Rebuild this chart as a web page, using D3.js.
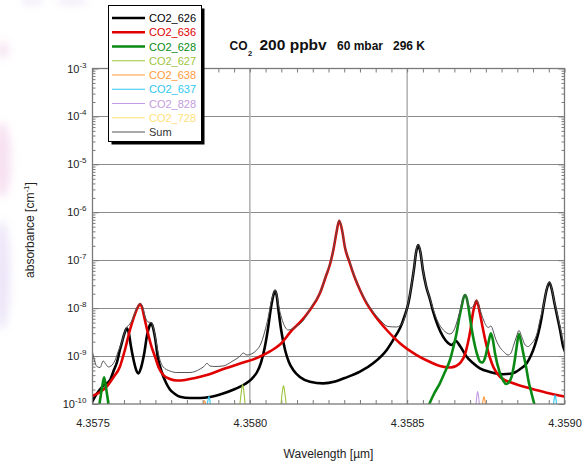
<!DOCTYPE html>
<html>
<head>
<meta charset="utf-8">
<script src="https://cdn.jsdelivr.net/npm/d3@7"></script>
<style>
  body { margin: 0; background: #fff; }
  svg { display: block; }
  text { font-family: "Liberation Sans", Arial, sans-serif; }
</style>
</head>
<body>
<svg id="chart" width="588" height="464"></svg>
<script>
// Axis ticks
const xTicks = [4.3575, 4.3580, 4.3585, 4.3590];
const yTicks = [1e-10, 1e-9, 1e-8, 1e-7, 1e-6, 1e-5, 1e-4, 1e-3];

// Absorbance spectra per isotopologue: [wavelength (µm), absorbance (cm^-1)]
const co2_626 = [
  [4.357500, 1.15e-10], [4.357514, 1.66e-10], [4.357533, 2.37e-10], [4.357556, 3.17e-10],
  [4.357568, 5.12e-10], [4.357578, 7.52e-10], [4.357587, 1.34e-9], [4.357594, 1.97e-9],
  [4.357602, 3.03e-9], [4.357609, 3.80e-9], [4.357616, 2.89e-9], [4.357622, 1.62e-9],
  [4.357632, 7.52e-10], [4.357640, 4.88e-10], [4.357646, 4.33e-10], [4.357654, 5.64e-10],
  [4.357664, 1.10e-9], [4.357673, 2.62e-9], [4.357680, 4.04e-9], [4.357686, 4.83e-9],
  [4.357692, 4.04e-9], [4.357699, 2.38e-9], [4.357708, 9.11e-10], [4.357720, 4.65e-10],
  [4.357734, 2.74e-10], [4.357746, 2.01e-10], [4.357762, 1.62e-10], [4.357778, 1.42e-10],
  [4.357810, 1.33e-10], [4.357842, 1.33e-10], [4.357873, 1.40e-10], [4.357915, 1.66e-10],
  [4.357953, 2.06e-10], [4.357985, 2.61e-10], [4.358007, 3.40e-10], [4.358023, 4.65e-10],
  [4.358036, 7.52e-10], [4.358047, 1.47e-9], [4.358058, 3.85e-9], [4.358067, 1.01e-8],
  [4.358075, 1.88e-8], [4.358080, 2.31e-8], [4.358085, 1.88e-8], [4.358091, 9.15e-9],
  [4.358099, 3.67e-9], [4.358112, 1.34e-9], [4.358124, 7.52e-10], [4.358138, 5.12e-10],
  [4.358159, 3.66e-10], [4.358191, 2.92e-10], [4.358233, 2.70e-10], [4.358271, 2.95e-10],
  [4.358302, 3.49e-10], [4.358350, 4.72e-10], [4.358392, 7.07e-10], [4.358435, 1.34e-9],
  [4.358461, 2.50e-9], [4.358477, 3.80e-9], [4.358493, 7.19e-9], [4.358504, 1.28e-8],
  [4.358514, 3.04e-8], [4.358522, 6.88e-8], [4.358528, 1.41e-7], [4.358535, 2.08e-7],
  [4.358542, 1.48e-7], [4.358550, 6.25e-8], [4.358560, 2.90e-8], [4.358573, 1.48e-8],
  [4.358582, 8.71e-9], [4.358598, 4.24e-9], [4.358614, 2.54e-9], [4.358630, 1.87e-9],
  [4.358642, 1.70e-9], [4.358655, 2.06e-9], [4.358668, 1.62e-9], [4.358689, 9.70e-10],
  [4.358709, 7.17e-10], [4.358731, 5.56e-10], [4.358763, 4.65e-10], [4.358805, 4.17e-10],
  [4.358833, 4.33e-10], [4.358859, 5.37e-10], [4.358880, 7.07e-10], [4.358894, 1.05e-9],
  [4.358906, 1.70e-9], [4.358917, 3.03e-9], [4.358927, 6.23e-9], [4.358935, 1.28e-8],
  [4.358943, 2.39e-8], [4.358952, 3.43e-8], [4.358960, 2.39e-8], [4.358968, 1.28e-8],
  [4.358976, 7.19e-9], [4.358986, 3.50e-9], [4.358996, 1.57e-9], [4.359002, 1.22e-9]
];

const co2_636 = [
  [4.357500, 1.47e-10], [4.357524, 1.78e-10], [4.357545, 2.30e-10], [4.357565, 3.49e-10],
  [4.357587, 6.00e-10], [4.357603, 1.34e-9], [4.357619, 3.50e-9], [4.357635, 7.55e-9],
  [4.357645, 1.08e-8], [4.357651, 1.22e-8], [4.357657, 1.06e-8], [4.357665, 6.23e-9],
  [4.357673, 3.67e-9], [4.357686, 1.70e-9], [4.357699, 9.56e-10], [4.357711, 5.64e-10],
  [4.357725, 4.03e-10], [4.357746, 3.32e-10], [4.357768, 3.09e-10], [4.357794, 3.17e-10],
  [4.357826, 3.49e-10], [4.357863, 4.03e-10], [4.357916, 5.37e-10], [4.357969, 7.00e-10],
  [4.358022, 9.11e-10], [4.358064, 1.25e-9], [4.358096, 1.74e-9], [4.358137, 3.67e-9],
  [4.358159, 5.02e-9], [4.358191, 9.15e-9], [4.358223, 2.07e-8], [4.358242, 4.68e-8],
  [4.358255, 8.34e-8], [4.358266, 1.71e-7], [4.358275, 3.70e-7], [4.358284, 6.67e-7],
  [4.358293, 4.27e-7], [4.358302, 1.89e-7], [4.358318, 8.62e-8], [4.358334, 4.25e-8],
  [4.358350, 2.39e-8], [4.358369, 1.34e-8], [4.358392, 7.81e-9], [4.358435, 3.50e-9],
  [4.358477, 1.85e-9], [4.358530, 1.05e-9], [4.358573, 7.52e-10], [4.358604, 6.21e-10],
  [4.358636, 5.77e-10], [4.358655, 6.21e-10], [4.358671, 7.52e-10], [4.358684, 1.10e-9],
  [4.358693, 1.87e-9], [4.358701, 3.50e-9], [4.358709, 7.92e-9], [4.358716, 1.22e-8],
  [4.358720, 1.43e-8], [4.358725, 1.22e-8], [4.358731, 7.92e-9], [4.358739, 4.24e-9],
  [4.358753, 1.57e-9], [4.358769, 7.07e-10], [4.358795, 3.71e-10], [4.358837, 2.70e-10],
  [4.358890, 2.13e-10], [4.358943, 1.72e-10], [4.359002, 1.42e-10]
];

const co2_628 = [
  [4.357519, 7.50e-11], [4.357525, 1.33e-10], [4.357531, 2.37e-10], [4.357537, 3.61e-10],
  [4.357542, 2.37e-10], [4.357548, 1.33e-10], [4.357554, 7.50e-11],
  [4.358560, 6.81e-11], [4.358569, 9.53e-11], [4.358585, 1.62e-10], [4.358604, 2.70e-10],
  [4.358620, 4.65e-10], [4.358636, 8.28e-10], [4.358647, 1.55e-9], [4.358657, 2.99e-9],
  [4.358666, 6.53e-9], [4.358673, 1.07e-8], [4.358679, 1.63e-8], [4.358684, 1.88e-8],
  [4.358689, 1.63e-8], [4.358695, 1.01e-8], [4.358703, 4.45e-9], [4.358716, 1.57e-9],
  [4.358725, 9.56e-10], [4.358731, 7.70e-10], [4.358739, 7.34e-10], [4.358747, 8.98e-10],
  [4.358758, 1.85e-9], [4.358766, 2.99e-9], [4.358773, 2.06e-9], [4.358779, 1.16e-9],
  [4.358795, 4.37e-10], [4.358806, 3.02e-10], [4.358814, 2.61e-10], [4.358824, 2.88e-10],
  [4.358832, 3.71e-10], [4.358841, 7.52e-10], [4.358848, 1.57e-9], [4.358855, 2.89e-9],
  [4.358862, 1.97e-9], [4.358869, 1.14e-9], [4.358878, 5.92e-10], [4.358885, 3.17e-10],
  [4.358895, 1.70e-10], [4.358906, 9.08e-11], [4.358913, 6.81e-11]
];

const co2_627 = [
  [4.357967, 8.0e-11], [4.357972, 1.6e-10], [4.357977, 2.55e-10], [4.357982, 1.6e-10], [4.357987, 8.0e-11],
  [4.358097, 8.0e-11], [4.358102, 1.55e-10], [4.358107, 2.43e-10], [4.358112, 1.55e-10], [4.358117, 8.0e-11]
];

const co2_638 = [
  [4.357850, 8.5e-11], [4.357853, 1.05e-10], [4.357856, 1.16e-10], [4.357859, 1.05e-10], [4.357862, 8.5e-11],
  [4.358738, 8.5e-11], [4.358741, 1.2e-10], [4.358744, 1.43e-10], [4.358747, 1.2e-10], [4.358750, 8.5e-11]
];

const co2_637 = [
  [4.357864, 8.5e-11], [4.357867, 1.2e-10], [4.357870, 1.43e-10], [4.357873, 1.2e-10], [4.357876, 8.5e-11],
  [4.358964, 8.5e-11], [4.358967, 1.25e-10], [4.358970, 1.54e-10], [4.358973, 1.25e-10], [4.358976, 8.5e-11]
];

const co2_828 = [
  [4.358718, 8.5e-11], [4.358721, 1.4e-10], [4.358724, 1.82e-10], [4.358727, 1.4e-10], [4.358730, 8.5e-11]
];

const co2_728 = [];

const sumSpectrum = [
  [4.357500, 1.22e-9], [4.357506, 8.28e-10], [4.357514, 6.06e-10], [4.357524, 5.77e-10],
  [4.357534, 7.89e-10], [4.357543, 6.67e-10], [4.357550, 5.92e-10], [4.357559, 6.21e-10],
  [4.357572, 8.28e-10], [4.357581, 1.22e-9], [4.357593, 1.92e-9], [4.357602, 3.10e-9],
  [4.357609, 4.04e-9], [4.357616, 4.45e-9], [4.357626, 5.66e-9], [4.357635, 8.11e-9],
  [4.357645, 1.14e-8], [4.357651, 1.26e-8], [4.357659, 1.08e-8], [4.357667, 6.85e-9],
  [4.357676, 5.14e-9], [4.357686, 5.02e-9], [4.357692, 4.24e-9], [4.357699, 2.62e-9],
  [4.357707, 1.34e-9], [4.357715, 8.08e-10], [4.357725, 5.92e-10], [4.357746, 4.88e-10],
  [4.357768, 4.54e-10], [4.357810, 4.54e-10], [4.357842, 5.37e-10], [4.357854, 6.06e-10],
  [4.357864, 7.07e-10], [4.357873, 6.21e-10], [4.357889, 6.06e-10], [4.357915, 6.21e-10],
  [4.357943, 7.70e-10], [4.357969, 1.00e-9], [4.357979, 1.16e-9], [4.357991, 1.05e-9],
  [4.358022, 1.34e-9], [4.358036, 1.87e-9], [4.358047, 3.18e-9], [4.358058, 6.23e-9],
  [4.358067, 1.28e-8], [4.358075, 2.02e-8], [4.358080, 2.39e-8], [4.358085, 1.97e-8],
  [4.358091, 1.16e-8], [4.358101, 6.23e-9], [4.358112, 4.04e-9], [4.358122, 3.50e-9],
  [4.358134, 3.67e-9], [4.358149, 4.24e-9], [4.358169, 5.39e-9], [4.358191, 9.60e-9],
  [4.358223, 2.12e-8], [4.358242, 4.80e-8], [4.358255, 8.54e-8], [4.358266, 1.75e-7],
  [4.358275, 3.79e-7], [4.358284, 6.80e-7], [4.358293, 4.37e-7], [4.358302, 1.93e-7],
  [4.358318, 8.96e-8], [4.358334, 4.36e-8], [4.358350, 2.45e-8], [4.358369, 1.41e-8],
  [4.358392, 8.31e-9], [4.358414, 5.66e-9], [4.358439, 4.14e-9], [4.358467, 4.04e-9],
  [4.358477, 4.34e-9], [4.358488, 5.26e-9], [4.358496, 7.92e-9], [4.358504, 1.34e-8],
  [4.358514, 3.11e-8], [4.358522, 7.05e-8], [4.358528, 1.45e-7], [4.358535, 2.13e-7],
  [4.358542, 1.52e-7], [4.358550, 6.40e-8], [4.358560, 2.97e-8], [4.358573, 1.55e-8],
  [4.358583, 9.37e-9], [4.358598, 5.14e-9], [4.358615, 3.50e-9], [4.358636, 2.89e-9],
  [4.358649, 3.50e-9], [4.358657, 4.90e-9], [4.358666, 7.92e-9], [4.358674, 1.34e-8],
  [4.358684, 1.93e-8], [4.358692, 1.34e-8], [4.358701, 1.01e-8], [4.358712, 1.16e-8],
  [4.358720, 1.48e-8], [4.358728, 1.16e-8], [4.358736, 7.55e-9], [4.358744, 5.39e-9],
  [4.358758, 3.95e-9], [4.358766, 4.24e-9], [4.358773, 3.42e-9], [4.358779, 2.50e-9],
  [4.358792, 1.62e-9], [4.358806, 1.25e-9], [4.358821, 1.05e-9], [4.358830, 1.16e-9],
  [4.358837, 1.58e-9], [4.358848, 2.62e-9], [4.358855, 3.42e-9], [4.358865, 2.44e-9],
  [4.358875, 1.70e-9], [4.358885, 1.58e-9], [4.358894, 1.79e-9], [4.358901, 2.01e-9],
  [4.358913, 3.03e-9], [4.358922, 5.66e-9], [4.358933, 1.11e-8], [4.358943, 2.45e-8],
  [4.358952, 3.51e-8], [4.358960, 2.45e-8], [4.358968, 1.34e-8], [4.358976, 7.92e-9],
  [4.358986, 4.04e-9], [4.358996, 1.97e-9], [4.359002, 1.47e-9]
];

const seriesNames  = ["CO2_626", "CO2_636", "CO2_628", "CO2_627", "CO2_638", "CO2_637", "CO2_828", "CO2_728", "Sum"];
const seriesData   = [co2_626, co2_636, co2_628, co2_627, co2_638, co2_637, co2_828, co2_728, sumSpectrum];
const seriesColors = ["#000000", "#e00000", "#0a8a14", "#9cc43c", "#ff9a3c", "#2ec8f0", "#c39be0", "#ffe27a", "#555555"];
const seriesWidths = [2.6, 2.6, 2.6, 1.1, 1.1, 1.1, 1.1, 1.1, 1];

// ---------------------------------------------------------------
const svg = d3.select("#chart");
const plot = { left: 92.5, right: 564.5, top: 68.5, bottom: 404 };

const x = d3.scaleLinear()
  .domain([xTicks[0], xTicks[xTicks.length - 1]])
  .range([plot.left, plot.right]);
const y = d3.scaleLog()
  .domain([yTicks[0], yTicks[yTicks.length - 1]])
  .range([plot.bottom, plot.top]);

// soft lavender smudges along the left margin
const defs = svg.append("defs");
defs.append("filter").attr("id", "soft")
  .attr("x", "-50%").attr("y", "-50%").attr("width", "200%").attr("height", "200%")
  .append("feGaussianBlur").attr("stdDeviation", 4);
defs.append("clipPath").attr("id", "plotClip")
  .append("rect")
  .attr("x", plot.left).attr("y", plot.top)
  .attr("width", plot.right - plot.left).attr("height", plot.bottom - plot.top);

const haze = svg.append("g").attr("filter", "url(#soft)").attr("opacity", 0.55);
haze.append("ellipse").attr("cx", 2).attr("cy", 160).attr("rx", 9).attr("ry", 38).attr("fill", "#f0c8e6");
haze.append("ellipse").attr("cx", 2).attr("cy", 275).attr("rx", 8).attr("ry", 55).attr("fill", "#dcd0f2");
haze.append("ellipse").attr("cx", 3).attr("cy", 50).attr("rx", 6).attr("ry", 9).attr("fill", "#f0d0e8");
haze.append("ellipse").attr("cx", 32).attr("cy", 1).attr("rx", 12).attr("ry", 4).attr("fill", "#e4dcf4");
haze.append("ellipse").attr("cx", 72).attr("cy", 1).attr("rx", 16).attr("ry", 4).attr("fill", "#e4dcf4");

// gridlines
const yMajorInner = yTicks.slice(1, -1);
svg.append("g")
  .selectAll("line").data(yMajorInner).join("line")
  .attr("x1", plot.left).attr("x2", plot.right)
  .attr("y1", d => Math.round(y(d)) + 0.5).attr("y2", d => Math.round(y(d)) + 0.5)
  .attr("stroke", "#8a8a8a").attr("stroke-width", 1);
svg.append("g")
  .selectAll("line").data(xTicks.slice(1, -1)).join("line")
  .attr("x1", d => x(d)).attr("x2", d => x(d))
  .attr("y1", plot.top).attr("y2", plot.bottom)
  .attr("stroke", "#b4b4b4").attr("stroke-width", 1.6);

// minor ticks
const minorX = d3.range(0, 31).map(i => xTicks[0] + i * 0.00005);
const minorY = [];
yTicks.slice(0, -1).forEach(d => { for (let k = 2; k <= 9; k++) minorY.push(d * k); });

function styleTicks(g) {
  g.select(".domain").remove();
  g.selectAll(".tick line").attr("stroke", "#7a7a7a").attr("stroke-width", 1);
}
svg.append("g").attr("transform", `translate(0,${plot.bottom})`)
  .call(d3.axisBottom(x).tickValues(minorX).tickSize(-4).tickFormat("")).call(styleTicks);
svg.append("g").attr("transform", `translate(0,${plot.top})`)
  .call(d3.axisTop(x).tickValues(minorX).tickSize(-4).tickFormat("")).call(styleTicks);
svg.append("g").attr("transform", `translate(${plot.left},0)`)
  .call(d3.axisLeft(y).tickValues(minorY).tickSize(-3).tickFormat("")).call(styleTicks);
svg.append("g").attr("transform", `translate(${plot.left},0)`)
  .call(d3.axisLeft(y).tickValues(yTicks).tickSize(-6).tickFormat("")).call(styleTicks);
svg.append("g").attr("transform", `translate(${plot.right},0)`)
  .call(d3.axisRight(y).tickValues(minorY).tickSize(-3).tickFormat("")).call(styleTicks);
svg.append("g").attr("transform", `translate(${plot.right},0)`)
  .call(d3.axisRight(y).tickValues(yTicks).tickSize(-6).tickFormat("")).call(styleTicks);

// spectra
const line = d3.line()
  .x(d => x(d[0]))
  .y(d => y(d[1]))
  .curve(d3.curveMonotoneX);

const curves = svg.append("g").attr("clip-path", "url(#plotClip)");
seriesData.forEach((data, i) => {
  if (!data.length) return;
  curves.append("path")
    .datum(data)
    .attr("d", line)
    .attr("fill", "none")
    .attr("stroke", seriesColors[i])
    .attr("stroke-width", seriesWidths[i])
    .attr("stroke-linejoin", "round")
    .attr("stroke-linecap", "round");
});

// frame
svg.append("rect")
  .attr("x", plot.left).attr("y", plot.top)
  .attr("width", plot.right - plot.left).attr("height", plot.bottom - plot.top)
  .attr("fill", "none").attr("stroke", "#7a7a7a").attr("stroke-width", 1.3);

// tick labels
const xLab = svg.append("g").attr("transform", `translate(0,${plot.bottom})`)
  .call(d3.axisBottom(x).tickValues(xTicks).tickSize(0).tickPadding(15).tickFormat(d3.format(".4f")));
xLab.select(".domain").remove();
xLab.selectAll("text").attr("font-size", 11).attr("fill", "#222")
  .style("font-family", '"Liberation Sans", Arial, sans-serif');

const yLab = svg.append("g").attr("transform", `translate(${plot.left},0)`)
  .call(d3.axisLeft(y).tickValues(yTicks).tickSize(0).tickPadding(6));
yLab.select(".domain").remove();
yLab.selectAll("text").each(function (d) {
  const t = d3.select(this);
  t.text(null).attr("font-size", 11).attr("fill", "#222")
    .style("font-family", '"Liberation Sans", Arial, sans-serif');
  t.append("tspan").text("10");
  t.append("tspan").attr("font-size", 8).attr("dy", "-5").text(String(Math.round(Math.log10(d))));
});

// axis titles
svg.append("text")
  .attr("x", (plot.left + plot.right) / 2).attr("y", 458)
  .attr("text-anchor", "middle").attr("font-size", 12).attr("fill", "#222")
  .text("Wavelength [µm]");

const yTitle = svg.append("text")
  .attr("transform", `translate(34,230) rotate(-90)`)
  .attr("text-anchor", "middle").attr("font-size", 12).attr("fill", "#222");
yTitle.append("tspan").text("absorbance [cm");
yTitle.append("tspan").attr("font-size", 8).attr("dy", -5).text("-1");
yTitle.append("tspan").attr("dy", 5).text("]");

// title
const title = svg.append("text").attr("font-weight", "bold").attr("fill", "#111");
title.append("tspan").attr("x", 229.5).attr("y", 49.5).attr("font-size", 12).text("CO");
title.append("tspan").attr("x", 248).attr("y", 55.5).attr("font-size", 7.5).text("2");
title.append("tspan").attr("x", 259.5).attr("y", 50).attr("font-size", 15.5).text("200 ppbv");
title.append("tspan").attr("x", 337).attr("y", 50).attr("font-size", 12).text("60 mbar");
title.append("tspan").attr("x", 393).attr("y", 50).attr("font-size", 12).text("296 K");

// legend
const lg = { x: 108.5, y: 5.5, w: 93, h: 136, row0: 18, dy: 14.25 };
const legend = svg.append("g");
legend.append("rect")
  .attr("x", lg.x + 3).attr("y", lg.y + 3).attr("width", lg.w).attr("height", lg.h)
  .attr("fill", "#000");
legend.append("rect")
  .attr("x", lg.x).attr("y", lg.y).attr("width", lg.w).attr("height", lg.h)
  .attr("fill", "#fff").attr("stroke", "#000").attr("stroke-width", 1);
const rows = legend.selectAll("g.row").data(seriesNames).join("g")
  .attr("class", "row")
  .attr("transform", (d, i) => `translate(0,${lg.row0 + i * lg.dy})`);
rows.append("line")
  .attr("x1", 112).attr("x2", 145)
  .attr("stroke", (d, i) => seriesColors[i])
  .attr("stroke-width", (d, i) => seriesWidths[i] > 2 ? 2.4 : 1.2);
rows.append("text")
  .attr("x", 149).attr("y", 4)
  .attr("font-size", 11)
  .attr("fill", (d, i) => i === seriesNames.length - 1 ? "#333" : seriesColors[i])
  .text(d => d);
</script>
</body>
</html>
